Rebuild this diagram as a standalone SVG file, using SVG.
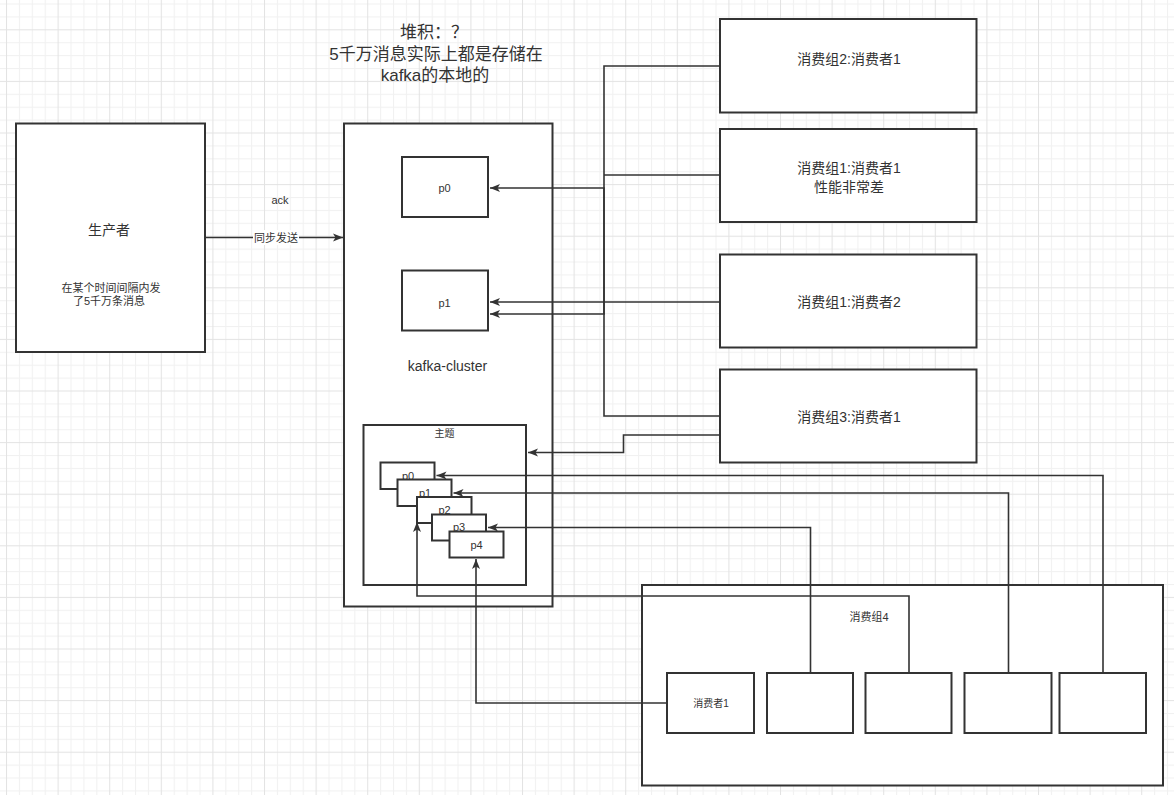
<svg xmlns="http://www.w3.org/2000/svg" width="1174" height="795" viewBox="0 0 1174 795">
<defs>
<pattern id="grid" width="51.6" height="51.6" patternUnits="userSpaceOnUse" x="6" y="29.3">
<rect width="51.6" height="51.6" fill="#ffffff"/>
<rect x="12.9" y="0" width="1" height="51.6" fill="#f1f1f1"/>
<rect x="25.8" y="0" width="1" height="51.6" fill="#f1f1f1"/>
<rect x="38.7" y="0" width="1" height="51.6" fill="#f1f1f1"/>
<rect x="0" y="12.9" width="51.6" height="1" fill="#f1f1f1"/>
<rect x="0" y="25.8" width="51.6" height="1" fill="#f1f1f1"/>
<rect x="0" y="38.7" width="51.6" height="1" fill="#f1f1f1"/>
<rect x="0" y="0" width="1" height="51.6" fill="#e3e3e3"/>
<rect x="0" y="0" width="51.6" height="1" fill="#e3e3e3"/>
</pattern>
<marker id="arr" markerUnits="userSpaceOnUse" markerWidth="12" markerHeight="10" refX="11" refY="5" orient="auto">
<path d="M1,1 L11,5 L1,9 L3.5,5 z" fill="#333333"/>
</marker>
</defs>
<style>
.box{fill:#ffffff;stroke:#333333;stroke-width:2}
.con{fill:none;stroke:#333333;stroke-width:1.6}
.t{font-family:"Liberation Sans","Noto Sans CJK SC",sans-serif;fill:#333333;text-anchor:middle;dominant-baseline:central}
</style>
<rect x="0" y="0" width="1174" height="795" fill="url(#grid)"/>

<g id="title">
<text class="t" x="434" y="32" font-size="17">堆积：？</text>
<text class="t" x="436" y="54" font-size="17">5千万消息实际上都是存储在</text>
<text class="t" x="435" y="75" font-size="17">kafka的本地的</text>
</g>

<g id="producer">
<rect class="box" x="16" y="123.5" width="189" height="228.5"/>
<text class="t" x="109" y="230" font-size="14">生产者</text>
<text class="t" x="111" y="288" font-size="11">在某个时间间隔内发</text>
<text class="t" x="109" y="300.5" font-size="11">了5千万条消息</text>
</g>

<g id="kafka-cluster">
<rect class="box" x="344" y="123.5" width="208.5" height="483"/>
<text class="t" x="447.5" y="366" font-size="14">kafka-cluster</text>
</g>

<g id="p0">
<rect class="box" x="402" y="157" width="86" height="60"/>
<text class="t" x="444.5" y="188" font-size="11">p0</text>
</g>
<g id="p1">
<rect class="box" x="402" y="270.5" width="86" height="60"/>
<text class="t" x="444.5" y="302.5" font-size="11">p1</text>
</g>

<g id="topic">
<rect class="box" x="363.5" y="425" width="162.5" height="160"/>
<text class="t" x="444.5" y="433.5" font-size="10">主题</text>
</g>
<g id="tp0">
<rect class="box" x="380.5" y="462.5" width="54" height="26.5"/>
<text class="t" x="408" y="475.5" font-size="11">p0</text>
</g>
<g id="tp1">
<rect class="box" x="397.5" y="479.5" width="54" height="26.5"/>
<text class="t" x="425" y="492.5" font-size="11">p1</text>
</g>
<g id="tp2">
<rect class="box" x="417" y="497" width="54.5" height="26"/>
<text class="t" x="444.5" y="509.5" font-size="11">p2</text>
</g>
<g id="tp3">
<rect class="box" x="432" y="514.5" width="54" height="26"/>
<text class="t" x="459" y="527" font-size="11">p3</text>
</g>
<g id="tp4">
<rect class="box" x="449.5" y="531.5" width="54" height="26"/>
<text class="t" x="476.5" y="545" font-size="11">p4</text>
</g>

<g id="g2c1">
<rect class="box" x="720" y="19" width="256.5" height="93.5"/>
<text class="t" x="849" y="58.5" font-size="14">消费组2:消费者1</text>
</g>
<g id="g1c1">
<rect class="box" x="720" y="129" width="256.5" height="93"/>
<text class="t" x="849" y="167.5" font-size="14">消费组1:消费者1</text>
<text class="t" x="849" y="186.5" font-size="14">性能非常差</text>
</g>
<g id="g1c2">
<rect class="box" x="720" y="254.5" width="256.5" height="93"/>
<text class="t" x="849" y="302" font-size="14">消费组1:消费者2</text>
</g>
<g id="g3c1">
<rect class="box" x="720" y="369.5" width="256.5" height="93"/>
<text class="t" x="849" y="416.5" font-size="14">消费组3:消费者1</text>
</g>

<g id="group4">
<rect class="box" x="642" y="585" width="521" height="200.5"/>
<text class="t" x="869" y="617" font-size="11">消费组4</text>
</g>
<g id="g4c1">
<rect class="box" x="667" y="673" width="87" height="60"/>
<text class="t" x="711" y="703" font-size="10">消费者1</text>
</g>
<g id="g4c2"><rect class="box" x="767" y="673" width="86" height="60"/></g>
<g id="g4c3"><rect class="box" x="865.5" y="673" width="86" height="60"/></g>
<g id="g4c4"><rect class="box" x="964.5" y="673" width="87" height="60"/></g>
<g id="g4c5"><rect class="box" x="1059.5" y="673" width="86.5" height="60"/></g>

<g id="connectors">
<path class="con" d="M205,237.5 H343" marker-end="url(#arr)"/>
<rect x="253" y="230" width="46" height="15" fill="#ffffff"/>
<text class="t" x="276" y="237.5" font-size="11">同步发送</text>
<text class="t" x="280" y="200" font-size="11">ack</text>
<path class="con" d="M720,66 H604 V314 H490" marker-end="url(#arr)"/>
<path class="con" d="M720,416 H604 V188 H490" marker-end="url(#arr)"/>
<path class="con" d="M720,175 H604"/>
<path class="con" d="M720,302 H490" marker-end="url(#arr)"/>
<path class="con" d="M720,435 H623.5 V452.5 H528" marker-end="url(#arr)"/>
<path class="con" d="M667,703 H476 V559" marker-end="url(#arr)"/>
<path class="con" d="M810.5,673 V527.5 H488" marker-end="url(#arr)"/>
<path class="con" d="M909,673 V596 H417 V522" marker-end="url(#arr)"/>
<path class="con" d="M1008.5,673 V493 H453.5" marker-end="url(#arr)"/>
<path class="con" d="M1103,673 V475.5 H436.5" marker-end="url(#arr)"/>
</g>
</svg>
